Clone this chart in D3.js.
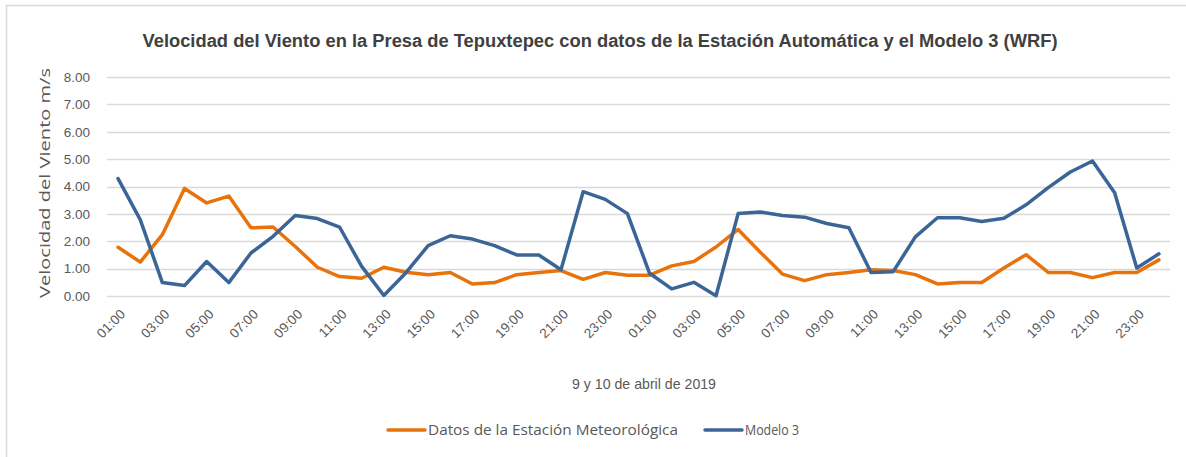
<!DOCTYPE html>
<html>
<head>
<meta charset="utf-8">
<script src="https://cdn.jsdelivr.net/npm/d3@7"></script>
<style>
  html, body { margin: 0; padding: 0; background: #fff; }
  svg { display: block; }
</style>
</head>
<body>
<svg id="chart" width="1186" height="457"></svg>
<script>
// Hourly labels for one day; the chart spans two days (9 and 10 April 2019)
const horas = ["01:00","02:00","03:00","04:00","05:00","06:00","07:00","08:00",
  "09:00","10:00","11:00","12:00","13:00","14:00","15:00","16:00",
  "17:00","18:00","19:00","20:00","21:00","22:00","23:00","00:00"];
const categorias = horas.concat(horas);

// Wind speed (m/s) measured by the weather station
const estacion = [1.78,1.24,2.24,3.93,3.40,3.65,2.49,2.52,1.81,1.05,0.71,0.65,
  1.05,0.87,0.78,0.86,0.44,0.49,0.78,0.86,0.93,0.61,0.86,0.76,
  0.76,1.10,1.26,1.79,2.43,1.60,0.80,0.56,0.78,0.86,0.96,0.93,
  0.78,0.44,0.49,0.49,1.02,1.51,0.86,0.86,0.67,0.86,0.86,1.32];

// Wind speed (m/s) from WRF model 3
const modelo3 = [4.29,2.79,0.49,0.38,1.26,0.49,1.57,2.18,2.94,2.83,2.52,1.08,
  0.02,0.85,1.84,2.20,2.08,1.84,1.50,1.50,0.96,3.81,3.53,3.01,
  0.83,0.26,0.50,0.01,3.01,3.07,2.94,2.88,2.65,2.49,0.86,0.89,
  2.16,2.86,2.86,2.72,2.84,3.33,3.96,4.53,4.93,3.77,1.02,1.54];

const yTicks = [0,1,2,3,4,5,6,7,8];

const series = [
  { nombre: "Datos de la Estación Meteorológica", valores: estacion, color: "#E8730C" },
  { nombre: "Modelo 3", valores: modelo3, color: "#3B6596" }
];

const svg = d3.select("#chart");
const textGray = "#595959";

// outer chart frame
svg.append("rect")
  .attr("x", 6.5).attr("y", 5.5)
  .attr("width", 1220).attr("height", 470)
  .attr("fill", "none").attr("stroke", "#d9d9d9").attr("stroke-width", 1.5);

const plot = { left: 107, right: 1170, top: 77, bottom: 296 };

const x = d3.scaleBand()
  .domain(d3.range(categorias.length))
  .range([plot.left, plot.right])
  .paddingInner(0).paddingOuter(0);

const y = d3.scaleLinear().domain([0, 8]).range([plot.bottom, plot.top]);

// horizontal gridlines
svg.append("g")
  .selectAll("line")
  .data(yTicks)
  .join("line")
  .attr("x1", plot.left).attr("x2", plot.right)
  .attr("y1", d => Math.round(y(d)) + 0.5).attr("y2", d => Math.round(y(d)) + 0.5)
  .attr("stroke", "#d9d9d9").attr("stroke-width", 1.3);

// y axis labels
const yAxis = d3.axisLeft(y).tickValues(yTicks).tickFormat(d3.format(".2f")).tickSize(0).tickPadding(0);
const gy = svg.append("g").attr("transform", `translate(${plot.left - 17},0)`).call(yAxis);
gy.select(".domain").remove();
gy.selectAll("text")
  .attr("fill", textGray)
  .style("font-family", "'Liberation Sans', Arial, sans-serif")
  .style("font-size", "13.5px");

// x axis labels, every other hour, rotated
const xAxis = d3.axisBottom(x)
  .tickValues(d3.range(0, categorias.length, 2))
  .tickFormat(i => categorias[i])
  .tickSize(0).tickPadding(0);
const gx = svg.append("g").attr("transform", `translate(0,${plot.bottom})`).call(xAxis);
gx.select(".domain").remove();
gx.selectAll("text")
  .attr("fill", textGray)
  .style("font-family", "'Liberation Sans', Arial, sans-serif")
  .style("font-size", "13.5px")
  .attr("text-anchor", "end")
  .attr("dy", null)
  .attr("y", 0)
  .attr("transform", "translate(8,19) rotate(-45)");

// series lines
const line = d3.line()
  .x((d, i) => x(i) + x.bandwidth() / 2)
  .y(d => y(d));

svg.append("g")
  .selectAll("path")
  .data(series)
  .join("path")
  .attr("d", s => line(s.valores))
  .attr("fill", "none")
  .attr("stroke", s => s.color)
  .attr("stroke-width", 3.5)
  .attr("stroke-linejoin", "round")
  .attr("stroke-linecap", "round");

// title
svg.append("text")
  .attr("x", 600).attr("y", 47)
  .attr("text-anchor", "middle")
  .attr("fill", "#404040")
  .style("font-family", "'Liberation Sans Narrow', 'Liberation Sans', Arial, sans-serif")
  .style("font-weight", "bold")
  .style("font-size", "18px")
  .attr("textLength", 915)
  .attr("lengthAdjust", "spacingAndGlyphs")
  .text("Velocidad del Viento en la Presa de Tepuxtepec con datos de la Estación Automática y el Modelo 3 (WRF)");

// y axis title
svg.append("text")
  .attr("transform", "translate(50,183) rotate(-90)")
  .attr("text-anchor", "middle")
  .attr("fill", textGray)
  .style("font-family", "'Open Sans', sans-serif")
  .style("font-size", "14px")
  .attr("textLength", 230)
  .attr("lengthAdjust", "spacingAndGlyphs")
  .text("Velocidad del Viento m/s");

// x axis title
svg.append("text")
  .attr("x", 644).attr("y", 389)
  .attr("text-anchor", "middle")
  .attr("fill", textGray)
  .style("font-family", "'Liberation Sans', Arial, sans-serif")
  .style("font-size", "15px")
  .attr("textLength", 144)
  .attr("lengthAdjust", "spacingAndGlyphs")
  .text("9 y 10 de abril de 2019");

// legend
const legendItems = [
  { s: series[0], x0: 388, textW: 250 },
  { s: series[1], x0: 705, textW: 54 }
];
const lg = svg.append("g");
legendItems.forEach(it => {
  lg.append("line")
    .attr("x1", it.x0).attr("x2", it.x0 + 37)
    .attr("y1", 430).attr("y2", 430)
    .attr("stroke", it.s.color).attr("stroke-width", 3.5)
    .attr("stroke-linecap", "round");
  lg.append("text")
    .attr("x", it.x0 + 40).attr("y", 435)
    .attr("fill", textGray)
    .style("font-family", "'Open Sans', sans-serif")
    .style("font-size", "14px")
    .attr("textLength", it.textW)
    .attr("lengthAdjust", "spacingAndGlyphs")
    .text(it.s.nombre);
});
</script>
</body>
</html>
